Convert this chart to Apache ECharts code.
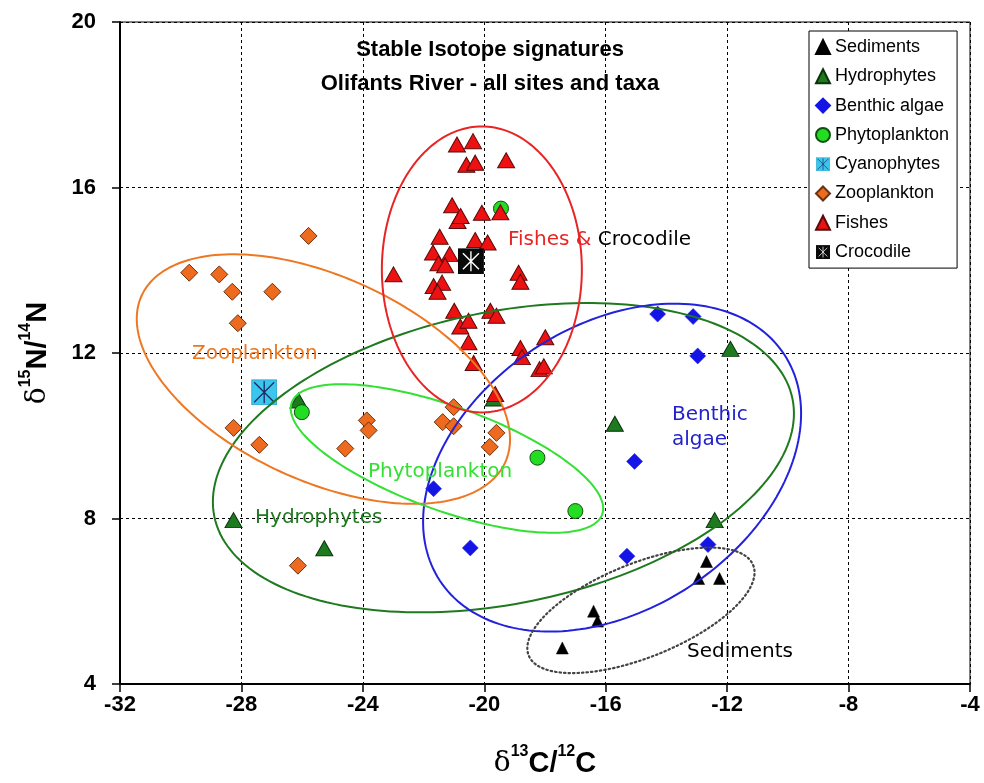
<!DOCTYPE html>
<html>
<head>
<meta charset="utf-8">
<script src="https://cdn.jsdelivr.net/npm/echarts@6/dist/echarts.min.js"></script>
<style>html,body{margin:0;padding:0;background:#fff}#c{width:984px;height:783px}</style>
</head>
<body>
<div id="c"></div>
<script>
// ---- Tick labels ----
const xTicks = [-32, -28, -24, -20, -16, -12, -8, -4];
const yTicks = [4, 8, 12, 16, 20];

// ---- Series values [d13C, d15N] ----
const sediments = [[-17.43, 4.87], [-16.40, 5.76], [-16.27, 5.52], [-12.94, 6.55], [-12.25, 6.55], [-12.68, 6.96]];
const hydrophytes = [[-28.26, 7.96], [-25.27, 7.28], [-26.12, 10.85], [-15.70, 10.29], [-11.89, 12.10], [-12.41, 7.96], [-19.69, 10.90]];
const benthicAlgae = [[-21.67, 8.72], [-20.46, 7.29], [-14.29, 12.94], [-13.12, 12.88], [-12.97, 11.93], [-15.05, 9.38], [-15.30, 7.09], [-12.63, 7.37]];
const phytoplankton = [[-26.01, 10.57], [-18.25, 9.47], [-17.00, 8.18], [-19.45, 15.49]];
const cyanophytes = [[-27.25, 11.05]];
const zooplankton = [[-25.79, 14.83], [-29.72, 13.94], [-28.73, 13.90], [-28.30, 13.48], [-26.98, 13.48], [-28.12, 12.72],
  [-28.26, 10.19], [-27.41, 9.78], [-24.58, 9.69], [-23.87, 10.37], [-23.81, 10.13], [-21.01, 10.69], [-21.37, 10.33],
  [-21.01, 10.23], [-19.60, 10.07], [-19.82, 9.73], [-26.14, 6.86]];
const fishes = [[-20.90, 17.04], [-20.37, 17.12], [-20.59, 16.55], [-20.30, 16.60], [-19.28, 16.66], [-21.06, 15.57],
  [-20.88, 15.19], [-20.78, 15.31], [-20.08, 15.39], [-19.47, 15.40], [-21.47, 14.81], [-20.30, 14.73], [-19.89, 14.67],
  [-21.69, 14.43], [-21.14, 14.39], [-21.51, 14.17], [-21.29, 14.12], [-22.99, 13.90], [-18.87, 13.94], [-18.81, 13.72],
  [-21.67, 13.62], [-21.39, 13.70], [-21.54, 13.48], [-20.99, 13.02], [-20.79, 12.64], [-20.52, 12.78], [-19.80, 13.02],
  [-19.60, 12.90], [-20.52, 12.26], [-20.35, 11.76], [-18.81, 12.12], [-18.76, 11.90], [-17.99, 12.38], [-18.18, 11.61],
  [-18.04, 11.68], [-19.64, 11.01]];
const crocodile = [[-20.44, 14.22]];

// ---- Group ellipses (centre in data units, shape drawn in screen space) ----
const ellipseCentres = {
  Zooplankton: [-25.30, 11.37],
  Hydrophytes: [-19.37, 9.47],
  Benthic: [-15.79, 9.23],
  Phytoplankton: [-21.23, 9.45],
  Sediments: [-14.84, 5.78],
  Fishes: [-20.08, 14.02]
};
const ellipseStyles = [
  {key: 'Hydrophytes', a: 295, b: 146, rot: -11.5, color: '#1F7A1F', dash: null, w: 2},
  {key: 'Benthic', a: 206, b: 142, rot: -33.3, color: '#2222DD', dash: null, w: 2},
  {key: 'Zooplankton', a: 200, b: 102, rot: 24.7, color: '#EE7722', dash: null, w: 2},
  {key: 'Phytoplankton', a: 165, b: 52, rot: 19.8, color: '#33E033', dash: null, w: 2},
  {key: 'Fishes', a: 100, b: 143, rot: 0, color: '#E82424', dash: null, w: 2},
  {key: 'Sediments', a: 121, b: 47, rot: -21.9, color: '#444444', dash: [1.5, 3], w: 2.2}
];

function svgUri(s) { return 'image://data:image/svg+xml;base64,' + btoa(s); }
const cyanSym = svgUri('<svg xmlns="http://www.w3.org/2000/svg" width="26" height="26"><rect x="0.5" y="0.5" width="25" height="25" fill="#3CC6EE" stroke="#2AA6D0"/><path d="M3 3L23 23M23 3L3 23M13 2V24" stroke="#1A2A60" stroke-width="1.3" fill="none"/></svg>');
const crocSym = svgUri('<svg xmlns="http://www.w3.org/2000/svg" width="26" height="26"><rect x="0" y="0" width="26" height="26" fill="#0A0A0A"/><path d="M5 5L21 21M21 5L5 21M13 3V23" stroke="#FFFFFF" stroke-width="1.4" fill="none"/></svg>');

const chart = echarts.init(document.getElementById('c'), null, {renderer: 'canvas'});

const sansB = 'Liberation Sans, Arial, sans-serif';
const annFont = 'DejaVu Sans, Verdana, sans-serif';

function scatter(name, data, symbol, size, color, border, bw, z) {
  return {
    name: name, type: 'scatter', data: data, symbol: symbol, symbolSize: size, z: z,
    itemStyle: {color: color, borderColor: border, borderWidth: bw, opacity: 1},
    emphasis: {disabled: true}
  };
}

const nameRich = {
  d: {fontFamily: 'DejaVu Serif, Liberation Serif, serif', fontSize: 28, color: '#000', lineHeight: 34, verticalAlign: 'bottom'},
  s: {fontFamily: sansB, fontWeight: 'bold', fontSize: 16, color: '#000', lineHeight: 34, verticalAlign: 'top'},
  n: {fontFamily: sansB, fontWeight: 'bold', fontSize: 29, color: '#000', lineHeight: 34, verticalAlign: 'bottom'}
};

const option = {
  backgroundColor: '#ffffff',
  animation: false,
  grid: {left: 120, right: 14, top: 22, bottom: 97, show: true, borderColor: '#000', borderWidth: 1, backgroundColor: 'transparent'},
  xAxis: {
    type: 'value', min: xTicks[0], max: xTicks[xTicks.length - 1], interval: xTicks[1] - xTicks[0],
    name: '{d|δ}{s|13}{n|C/}{s|12}{n|C}', nameLocation: 'middle', nameGap: 60,
    nameTextStyle: {rich: nameRich},
    axisLine: {show: true, onZero: false, lineStyle: {color: '#000', width: 2}},
    axisTick: {show: true, inside: false, length: 8, lineStyle: {color: '#000', width: 1.5}},
    axisLabel: {fontFamily: sansB, fontWeight: 'bold', fontSize: 22, color: '#000', margin: 10},
    splitLine: {show: true, lineStyle: {color: '#000', width: 1, type: [3, 3]}}
  },
  yAxis: {
    type: 'value', min: yTicks[0], max: yTicks[yTicks.length - 1], interval: yTicks[1] - yTicks[0],
    name: '{d|δ}{s|15}{n|N/}{s|14}{n|N}', nameLocation: 'middle', nameGap: 68, nameRotate: 90,
    nameTextStyle: {rich: nameRich},
    axisLine: {show: true, onZero: false, lineStyle: {color: '#000', width: 2}},
    axisTick: {show: true, inside: false, length: 8, lineStyle: {color: '#000', width: 1.5}},
    axisLabel: {fontFamily: sansB, fontWeight: 'bold', fontSize: 22, color: '#000', margin: 24},
    splitLine: {show: true, lineStyle: {color: '#000', width: 1, type: [3, 3]}}
  },
  legend: {
    show: true, orient: 'vertical', left: 809, top: 31,
    padding: [6, 8, 6, 6], itemGap: 9.3, itemWidth: 14, itemHeight: 14,
    backgroundColor: '#fff', borderColor: '#000', borderWidth: 1, borderRadius: 0,
    selectedMode: false,
    textStyle: {fontFamily: sansB, fontSize: 18, color: '#000', lineHeight: 20},
    data: ['Sediments', 'Hydrophytes', 'Benthic algae', 'Phytoplankton', 'Cyanophytes', 'Zooplankton', 'Fishes', 'Crocodile']
  },
  graphic: [
    {type: 'text', x: 490, y: 50, z: 100, silent: true,
     style: {text: 'Stable Isotope signatures', fontFamily: sansB, fontWeight: 'bold', fontSize: 22, fill: '#000', textAlign: 'center', textVerticalAlign: 'middle'}},
    {type: 'text', x: 490, y: 84, z: 100, silent: true,
     style: {text: 'Olifants River - all sites and taxa', fontFamily: sansB, fontWeight: 'bold', fontSize: 22, fill: '#000', textAlign: 'center', textVerticalAlign: 'middle'}},
    {type: 'text', x: 192, y: 354, z: 100, silent: true,
     style: {text: 'Zooplankton', fontFamily: annFont, fontSize: 20, fill: '#E87722', textAlign: 'left', textVerticalAlign: 'middle'}},
    {type: 'text', x: 368, y: 472, z: 100, silent: true,
     style: {text: 'Phytoplankton', fontFamily: annFont, fontSize: 20, fill: '#33E033', textAlign: 'left', textVerticalAlign: 'middle'}},
    {type: 'text', x: 255, y: 518, z: 100, silent: true,
     style: {text: 'Hydrophytes', fontFamily: annFont, fontSize: 20, fill: '#1F7A1F', textAlign: 'left', textVerticalAlign: 'middle'}},
    {type: 'text', x: 672, y: 415, z: 100, silent: true,
     style: {text: 'Benthic', fontFamily: annFont, fontSize: 20, fill: '#2222CC', textAlign: 'left', textVerticalAlign: 'middle'}},
    {type: 'text', x: 672, y: 440, z: 100, silent: true,
     style: {text: 'algae', fontFamily: annFont, fontSize: 20, fill: '#2222CC', textAlign: 'left', textVerticalAlign: 'middle'}},
    {type: 'text', x: 508, y: 240, z: 100, silent: true,
     style: {text: '{r|Fishes &} {k|Crocodile}', fontFamily: annFont, fontSize: 20, textAlign: 'left', textVerticalAlign: 'middle',
       rich: {r: {fontFamily: annFont, fontSize: 20, fill: '#E82424', color: '#E82424'}, k: {fontFamily: annFont, fontSize: 20, fill: '#000', color: '#000'}}}},
    {type: 'text', x: 687, y: 652, z: 100, silent: true,
     style: {text: 'Sediments', fontFamily: annFont, fontSize: 20, fill: '#000', textAlign: 'left', textVerticalAlign: 'middle'}}
  ],
  series: [
    scatter('Sediments', sediments, 'triangle', [12, 12], '#000000', '#000000', 0.5, 2),
    scatter('Hydrophytes', hydrophytes, 'triangle', [17, 15], '#1E7A1E', '#0B330B', 1, 2),
    scatter('Benthic algae', benthicAlgae, 'diamond', [16, 16], '#1414E6', '#1414E6', 0.5, 2),
    scatter('Phytoplankton', phytoplankton, 'circle', [15, 15], '#22DD22', '#0F4F0F', 1, 2),
    scatter('Cyanophytes', cyanophytes, cyanSym, [26, 26], '#3CC6EE', '#2AA6D0', 0, 2),
    scatter('Zooplankton', zooplankton, 'diamond', [17, 17], '#EE6A1E', '#6B3210', 1, 2),
    scatter('Fishes', fishes, 'triangle', [17, 15], '#EE1111', '#5A0A0A', 1, 2),
    scatter('Crocodile', crocodile, crocSym, [26, 26], '#0A0A0A', '#000', 0, 2),
    {
      name: 'groups', type: 'custom', z: 5, silent: true,
      data: ellipseStyles.map(e => ellipseCentres[e.key]),
      renderItem: function (params, api) {
        const e = ellipseStyles[params.dataIndex];
        const c = api.coord([api.value(0), api.value(1)]);
        const th = e.rot * Math.PI / 180;
        const pts = [];
        const n = 200;
        for (let i = 0; i < n; i++) {
          const t = i / n * 2 * Math.PI;
          const ex = e.a * Math.cos(t), ey = e.b * Math.sin(t);
          pts.push([c[0] + ex * Math.cos(th) - ey * Math.sin(th), c[1] + ex * Math.sin(th) + ey * Math.cos(th)]);
        }
        return {
          type: 'polygon', shape: {points: pts},
          style: {fill: 'none', stroke: e.color, lineWidth: e.w, lineDash: e.dash, lineCap: 'round'}
        };
      }
    }
  ]
};
chart.setOption(option);
</script>
</body>
</html>
